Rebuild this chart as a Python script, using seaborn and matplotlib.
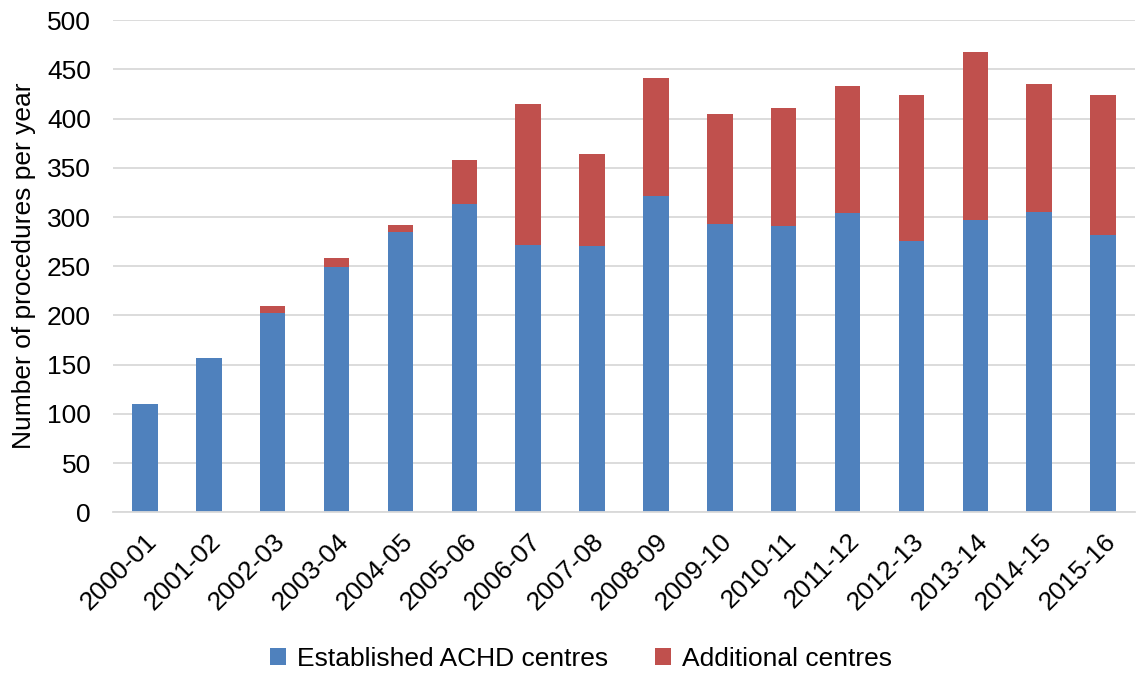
import matplotlib
matplotlib.use("Agg")
import matplotlib.pyplot as plt
import seaborn as sns
import pandas as pd

# Procedures per financial year
years = ["2000-01", "2001-02", "2002-03", "2003-04", "2004-05", "2005-06",
         "2006-07", "2007-08", "2008-09", "2009-10", "2010-11", "2011-12",
         "2012-13", "2013-14", "2014-15", "2015-16"]
established = [110, 157, 202, 249, 285, 313, 272, 271, 321, 293, 291, 304,
               276, 297, 305, 282]
additional = [0, 0, 8, 9, 7, 45, 143, 93, 120, 112, 120, 129, 148, 171, 130, 142]

df = pd.DataFrame({"year": years, "established": established,
                   "additional": additional})

BLUE = "#4F81BD"
RED = "#C0504D"
FS = 19

sns.set_theme(style="white")
plt.rcParams["font.family"] = ["Liberation Sans", "DejaVu Sans"]
plt.rcParams["text.color"] = "black"

fig = plt.figure(figsize=(11.39, 6.74), dpi=100)
ax = fig.add_axes([0.0992, 0.240, 0.8973, 0.730])

sns.barplot(data=df, x="year", y="established", color=BLUE, width=0.4,
            saturation=1, linewidth=0, ax=ax,
            label="Established ACHD centres")
sns.barplot(data=df, x="year", y="additional", color=RED, width=0.4,
            saturation=1, bottom=df["established"], linewidth=0, ax=ax,
            label="Additional centres")

ax.set_ylim(0, 500)
ax.set_xlim(-0.5, len(years) - 0.5)
ax.set_yticks(range(0, 501, 50))
ax.yaxis.grid(True, color="#D9D9D9", linewidth=1.3)
ax.set_axisbelow(True)
for s in ["top", "right", "left"]:
    ax.spines[s].set_visible(False)
ax.spines["bottom"].set_color("#D9D9D9")
ax.spines["bottom"].set_linewidth(1.3)

ax.tick_params(axis="both", length=0, labelsize=FS, colors="black")
ax.tick_params(axis="y", pad=16)
ax.set_xlabel("")
ax.set_ylabel("Number of procedures per year", fontsize=FS, labelpad=8,
              color="black")
plt.setp(ax.get_xticklabels(), rotation=45, ha="right",
         rotation_mode="anchor")
ax.tick_params(axis="x", pad=12)

if ax.get_legend():
    ax.get_legend().remove()
handles, labels = ax.get_legend_handles_labels()
fig.legend(handles, labels, loc="center", bbox_to_anchor=(0.51, 0.022),
           ncol=2, frameon=False, fontsize=FS, handlelength=0.6,
           handleheight=0.6, handletextpad=0.4, columnspacing=1.8,
           borderpad=0)

fig.savefig("out.png", dpi=100)
